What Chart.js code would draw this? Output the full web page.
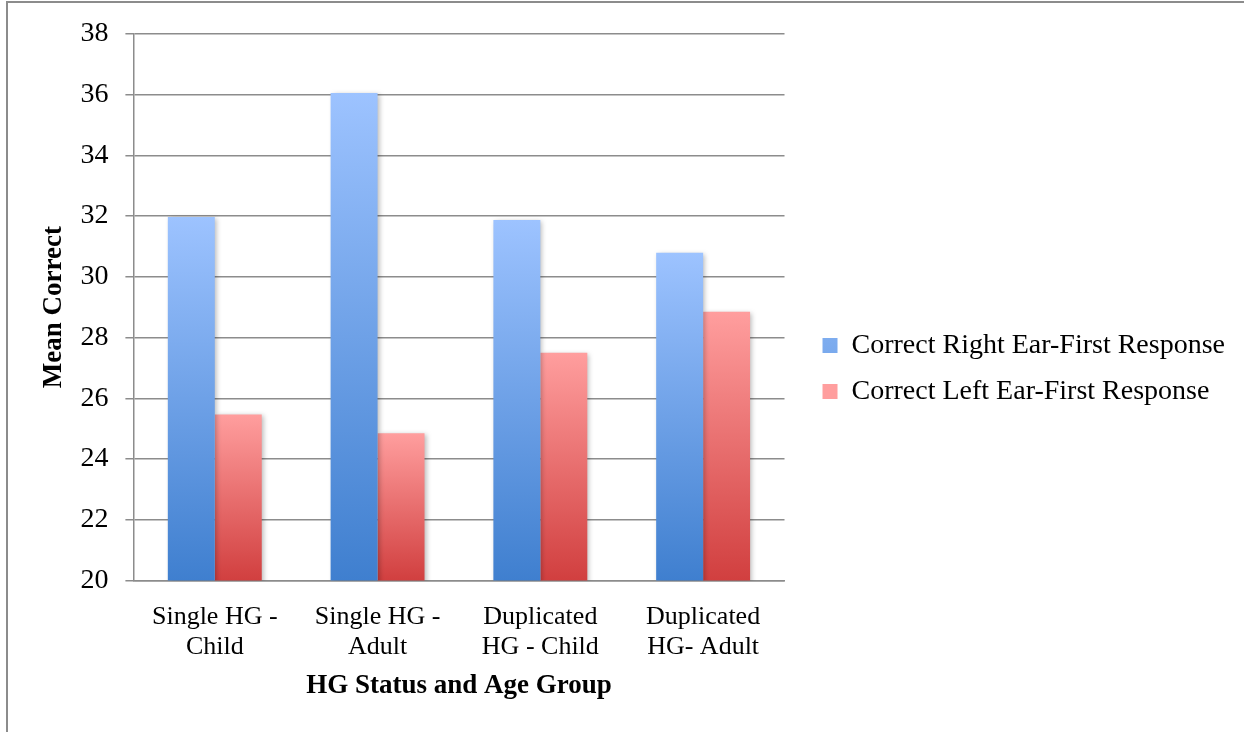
<!DOCTYPE html>
<html>
<head>
<meta charset="utf-8">
<script src="https://cdn.jsdelivr.net/npm/chart.js@4/dist/chart.umd.min.js"></script>
<style>
  html, body { margin: 0; padding: 0; background: #fff; }
  #wrap { position: relative; width: 1244px; height: 732px; overflow: hidden; }
  #frame { position: absolute; left: 6px; top: 1px; right: -10px; bottom: -10px;
           border-left: 2px solid #8c8c8c; border-top: 2px solid #8c8c8c; pointer-events: none; }
  canvas { position: absolute; left: 0; top: 0; }
</style>
</head>
<body>
<div id="wrap">
  <canvas id="chart" width="1244" height="732"></canvas>
  <div id="frame"></div>
</div>
<script>
// Groups along the x axis (two-line labels)
const categories = [
  ['Single HG -', 'Child'],
  ['Single HG -', 'Adult'],
  ['Duplicated', 'HG - Child'],
  ['Duplicated', 'HG- Adult']
];
// Mean number of correct responses per group
const rightEarFirst = [31.97, 36.05, 31.87, 30.79];
const leftEarFirst  = [25.47, 24.85, 27.50, 28.85];
const seriesNames = ['Correct Right Ear-First Response', 'Correct Left Ear-First Response'];
// Value axis range
const yMin = 20, yMax = 38, yStep = 2;

const FONT = '"Liberation Serif", "Times New Roman", serif';

// Vertical gradient per bar: light at the top, deeper at the base
function barFill(light, dark, mid) {
  return function (c) {
    const chart = c.chart;
    if (c.type !== 'data' || !chart.chartArea || !chart.scales.y) return mid;
    const y = chart.scales.y;
    const top = y.getPixelForValue(c.raw);
    const base = y.getPixelForValue(yMin);
    if (!isFinite(top) || !isFinite(base) || top === base) return mid;
    const g = chart.ctx.createLinearGradient(0, top, 0, base);
    g.addColorStop(0, light);
    g.addColorStop(1, dark);
    return g;
  };
}

// Soft drop shadow behind the bars
const barShadow = {
  id: 'barShadow',
  beforeDatasetsDraw(chart) {
    const ctx = chart.ctx;
    ctx.save();
    ctx.shadowColor = 'rgba(0,0,0,0.28)';
    ctx.shadowBlur = 5;
    ctx.shadowOffsetX = 2;
    ctx.shadowOffsetY = 1;
  },
  afterDatasetsDraw(chart) {
    chart.ctx.restore();
  }
};

// Leave a gap between the plot and the legend on the right
const LEGEND_GAP = 20;
const legendGap = {
  id: 'legendGap',
  afterLayout(chart) {
    const lg = chart.legend;
    if (!lg) return;
    lg.left += LEGEND_GAP;
    lg.right += LEGEND_GAP;
  }
};

new Chart(document.getElementById('chart'), {
  type: 'bar',
  data: {
    labels: categories,
    datasets: [
      {
        label: seriesNames[0],
        data: rightEarFirst,
        backgroundColor: barFill('#9dc3ff', '#3f7fcf', '#6e9fe6'),
        borderWidth: 0
      },
      {
        label: seriesNames[1],
        data: leftEarFirst,
        backgroundColor: barFill('#ff9e9e', '#d13f3f', '#ea6f6f'),
        borderWidth: 0
      }
    ]
  },
  options: {
    responsive: false,
    animation: false,
    devicePixelRatio: 1,
    layout: { padding: { left: 34, right: 29, top: 30, bottom: 25 } },
    datasets: {
      bar: { categoryPercentage: 0.577, barPercentage: 1.0 }
    },
    scales: {
      x: {
        grid: { display: false, drawTicks: false, tickLength: 0 },
        border: { display: true, color: '#8c8c8c', width: 1.5 },
        ticks: {
          color: '#000',
          font: { family: FONT, size: 26, lineHeight: 1.154 },
          padding: 22,
          maxRotation: 0,
          autoSkip: false
        },
        title: {
          display: true,
          text: 'HG Status and Age Group',
          color: '#000',
          font: { family: FONT, size: 27, weight: 'bold', lineHeight: 1.2 },
          padding: { top: -15, bottom: 5 }
        }
      },
      y: {
        min: yMin,
        max: yMax,
        ticks: {
          stepSize: yStep,
          color: '#000',
          font: { family: FONT, size: 28 },
          padding: 17
        },
        grid: {
          color: '#8c8c8c',
          lineWidth: 1.5,
          tickLength: 8,
          drawTicks: true
        },
        border: { display: true, color: '#8c8c8c', width: 1.5 },
        title: {
          display: true,
          text: 'Mean Correct',
          color: '#000',
          font: { family: FONT, size: 27, weight: 'bold', lineHeight: 1.2 },
          padding: { top: 4, bottom: -7 }
        }
      }
    },
    plugins: {
      legend: {
        position: 'right',
        align: 'center',
        maxWidth: 520,
        labels: {
          color: '#000',
          font: { family: FONT, size: 28 },
          boxWidth: 15,
          boxHeight: 15,
          padding: 18
        }
      },
      tooltip: { enabled: false }
    }
  },
  plugins: [barShadow, legendGap]
});
</script>
</body>
</html>
